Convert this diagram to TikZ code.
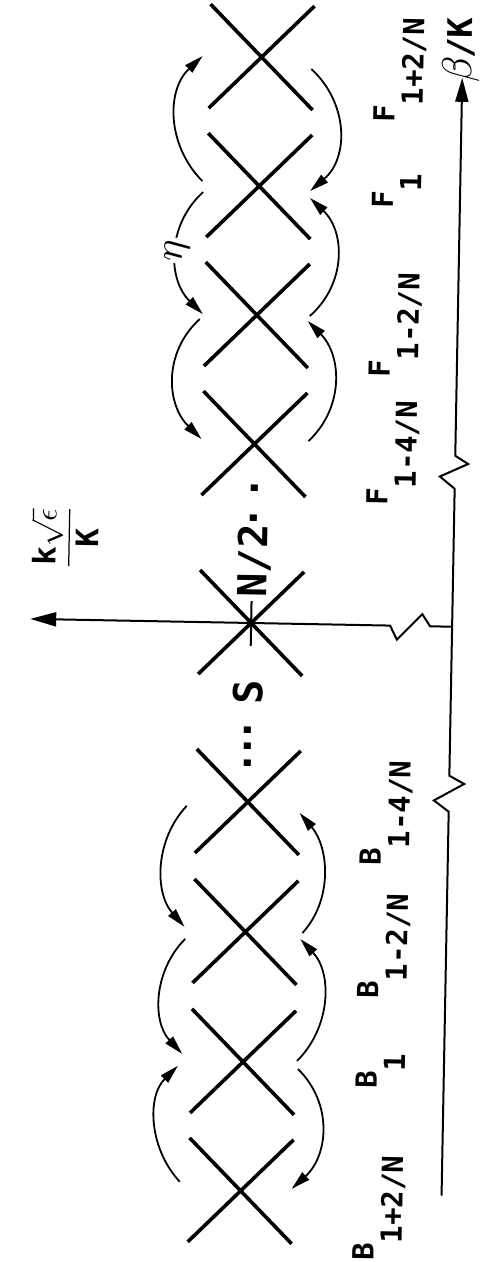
\documentclass[tikz,border=0pt]{standalone}
\usepackage{graphicx}
\usepackage{fontspec}
\usetikzlibrary{arrows.meta}
\newfontfamily\monolab{DejaVu Sans Mono}
\newcommand\labsmall{\monolab\bfseries\fontsize{29pt}{35pt}\selectfont}
\newcommand\labbig{\monolab\bfseries\fontsize{40pt}{48pt}\selectfont}
\newcommand\labK{\monolab\bfseries\fontsize{34pt}{40pt}\selectfont}
\newcommand\sbs[1]{\raisebox{-28pt}{#1}}
\begin{document}
\begin{tikzpicture}[x=1pt,y=-1pt,
  xline/.style={line width=3.6pt},
  arcl/.style={line width=1.8pt,-{Triangle[length=19pt,width=10pt]}},
  axisl/.style={line width=2pt},
  lab/.style={rotate=90,anchor=base west,inner sep=0pt,font=\labsmall},
  labb/.style={rotate=90,anchor=base west,inner sep=0pt,font=\labbig},
  cross/.pic={\draw[xline] (-52,-52) -- (52,52) (-52,52) -- (52,-52);}
]
\useasboundingbox (0,0) rectangle (481,1262);
\begin{scope}[rotate around={-1.06:(251,631)}, transform shape]
% crossings
\coordinate (X1) at (251,57);
\coordinate (X2) at (251,186);
\coordinate (X3) at (251,315);
\coordinate (X4) at (251,444);
\coordinate (X5) at (251,623);
\coordinate (X6) at (251,802);
\coordinate (X7) at (251,932);
\coordinate (X8) at (251,1062);
\coordinate (X9) at (251,1191);
\foreach \c in {X1,X2,X3,X4,X5,X6,X7,X8,X9} \pic at (\c) {cross};
% F side arcs
\draw[arcl] (194,182) .. controls (158,147) and (156,92) .. (192,57);
\draw[arcl] (195,193) .. controls (159,227) and (161,281) .. (197,315);
\draw[arcl] (194,320) .. controls (158,354) and (162,406) .. (198,440);
\draw[arcl] (301,68) .. controls (339,102) and (340,156) .. (302,190);
\draw[arcl] (304,315) .. controls (340,282) and (338,230) .. (302,197);
\draw[arcl] (305,440) .. controls (340,406) and (337,354) .. (302,320);
% B side arcs
\draw[arcl] (190,807) .. controls (159,841) and (159,894) .. (190,928);
\draw[arcl] (191,940) .. controls (160,972) and (159,1023) .. (190,1055);
\draw[arcl] (190,1183) .. controls (159,1151) and (155,1099) .. (186,1067);
\draw[arcl] (308,932) .. controls (338,898) and (333,846) .. (303,812);
\draw[arcl] (305,1060) .. controls (338,1026) and (339,972) .. (306,938);
\draw[arcl] (306,1068) .. controls (342,1102) and (338,1154) .. (302,1188);
% eta
\node[rotate=90,fill=white,inner sep=2pt] (eta) at (170,252) {\scalebox{4}{$\eta$}};
% axes
\coordinate (O) at (452,623);
\coordinate (bot) at (452,1192);
\coordinate (top) at (452,74);
\coordinate (left) at (30,623);
\draw[axisl,-{Triangle[length=24pt,width=13pt]}] (bot) -- (452,808) -- (437,797) -- (467,780) -- (452,772) -- (452,485) -- (437,473) -- (465,460) -- (452,452) -- (top);
\draw[axisl,-{Triangle[length=26pt,width=14pt]}] (O) -- (430,623) -- (422,611) -- (397,637) -- (390,623) -- (left);
\draw[axisl] (251,601) -- (251,646);
% labels
\node[lab] (F2) at (385,120) {F\sbs{1+2/N}};
\node[lab] (F1) at (385,206) {F\sbs{1}};
\node[lab] (Fm2) at (385,375) {F\sbs{1-2/N}};
\node[lab] (Fm4) at (385,503) {F\sbs{1-4/N}};
\node[lab] (Bm4) at (385,863) {B\sbs{1-4/N}};
\node[lab] (Bm2) at (385,996) {B\sbs{1-2/N}};
\node[lab] (B1) at (385,1086) {B\sbs{1}};
\node[lab] (B2) at (385,1258) {B\sbs{1+2/N}};
\node[labb] (half) at (266,597) {N/2\kern-6pt·\kern6pt·};
\node[labb] (S) at (264,775) {·\kern-7.6pt·\kern-7.6pt·\kern14pt S};
\node[rotate=90,anchor=base west,inner sep=0pt] (beta) at (461,79) {\scalebox{4.2}{$\beta$}\labK\kern-2pt/K};
\node[rotate=90,inner sep=0pt] (kax) at (63,541) {\scalebox{3.1}{$\displaystyle\frac{\mbox{\monolab\bfseries k}\sqrt{\epsilon}}{\mbox{\monolab\bfseries K}}$}};
\end{scope}
\end{tikzpicture}
\end{document}
